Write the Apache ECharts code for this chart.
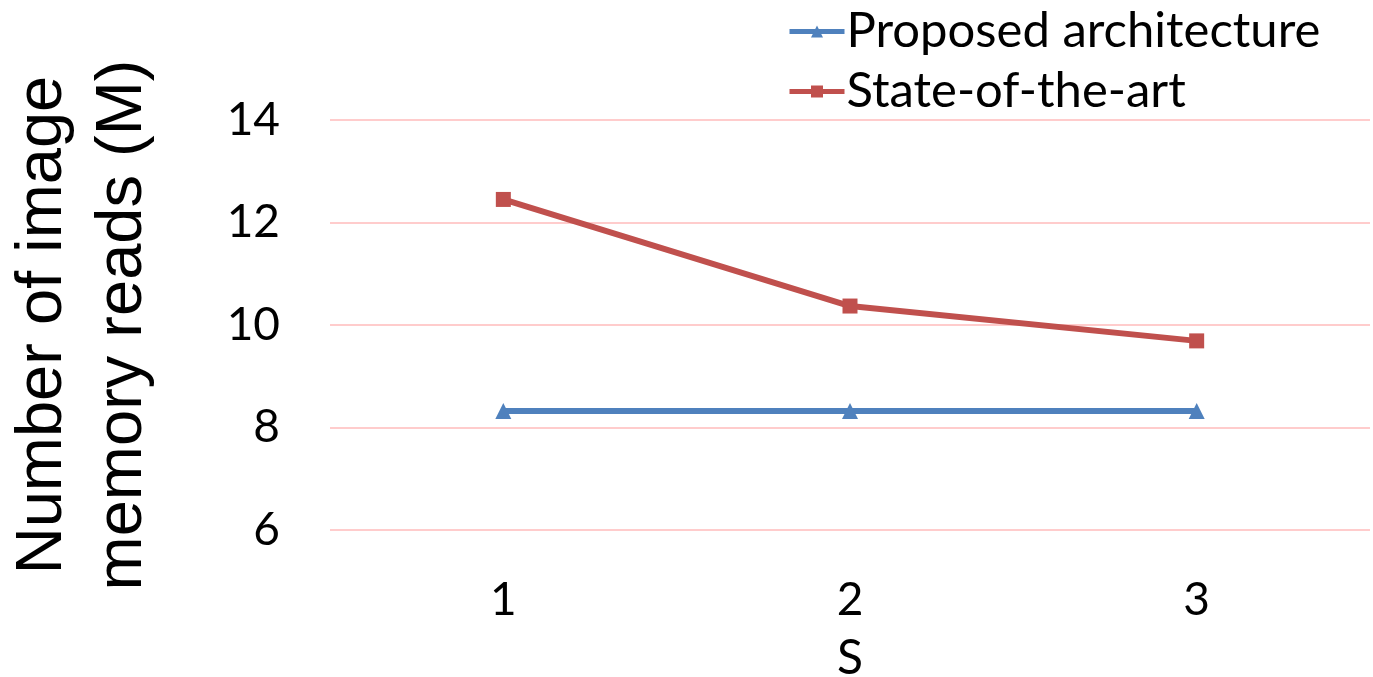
<!DOCTYPE html>
<html>
<head>
<meta charset="utf-8">
<script src="https://cdn.jsdelivr.net/npm/echarts@6/dist/echarts.min.js"></script>
<style>
  html, body { margin: 0; padding: 0; background: #ffffff; }
  #chart { width: 1373px; height: 677px; }
</style>
</head>
<body>
<div id="chart"></div>
<script>
// Image memory reads (millions) for each value of S
const categories = ['1', '2', '3'];
const proposed = [8.32, 8.32, 8.32];
const stateOfTheArt = [12.45, 10.37, 9.69];
const yTicks = { min: 6, max: 14, step: 2 };

const labelFont = 'Lato, "Open Sans", sans-serif';

const chart = echarts.init(document.getElementById('chart'), null, { renderer: 'canvas' });

chart.setOption({
  backgroundColor: '#ffffff',
  animation: false,
  grid: { left: 330, right: 3, top: 120, bottom: 147, containLabel: false, outerBoundsMode: 'none' },
  legend: {
    orient: 'vertical',
    left: 782,
    top: 2,
    itemWidth: 55,
    itemHeight: 15,
    itemGap: 11,
    lineStyle: { width: 5 },
    textStyle: { fontFamily: labelFont, fontSize: 49, color: '#000000', padding: [0, 0, 0, -3] },
    data: ['Proposed architecture', 'State-of-the-art']
  },
  xAxis: {
    type: 'category',
    data: categories,
    boundaryGap: true,
    axisLine: { show: false },
    axisTick: { show: false },
    axisLabel: { fontFamily: labelFont, fontSize: 46, color: '#000000', margin: 47 },
    name: 'S',
    nameLocation: 'middle',
    nameGap: 105,
    nameTextStyle: { fontFamily: labelFont, fontSize: 48, color: '#000000' }
  },
  yAxis: {
    type: 'value',
    min: yTicks.min,
    max: yTicks.max,
    interval: yTicks.step,
    axisLine: { show: false },
    axisTick: { show: false },
    splitLine: { lineStyle: { color: '#ffcccc', width: 2 } },
    axisLabel: { fontFamily: labelFont, fontSize: 46, color: '#000000', margin: 50 },
    name: 'Number of image\nmemory reads (M)',
    nameLocation: 'middle',
    nameRotate: 90,
    nameGap: 167,
    nameTextStyle: {
      fontFamily: '"Liberation Sans", Arial, sans-serif',
      fontSize: 65,
      lineHeight: 80,
      color: '#000000'
    }
  },
  series: [
    {
      name: 'Proposed architecture',
      type: 'line',
      data: proposed,
      symbol: 'triangle',
      symbolSize: 16,
      color: '#4f81bd',
      lineStyle: { width: 6, color: '#4f81bd' },
      itemStyle: { color: '#4f81bd' }
    },
    {
      name: 'State-of-the-art',
      type: 'line',
      data: stateOfTheArt,
      symbol: 'rect',
      symbolSize: 15,
      color: '#c0504d',
      lineStyle: { width: 6, color: '#c0504d' },
      itemStyle: { color: '#c0504d' }
    }
  ]
});
</script>
</body>
</html>
